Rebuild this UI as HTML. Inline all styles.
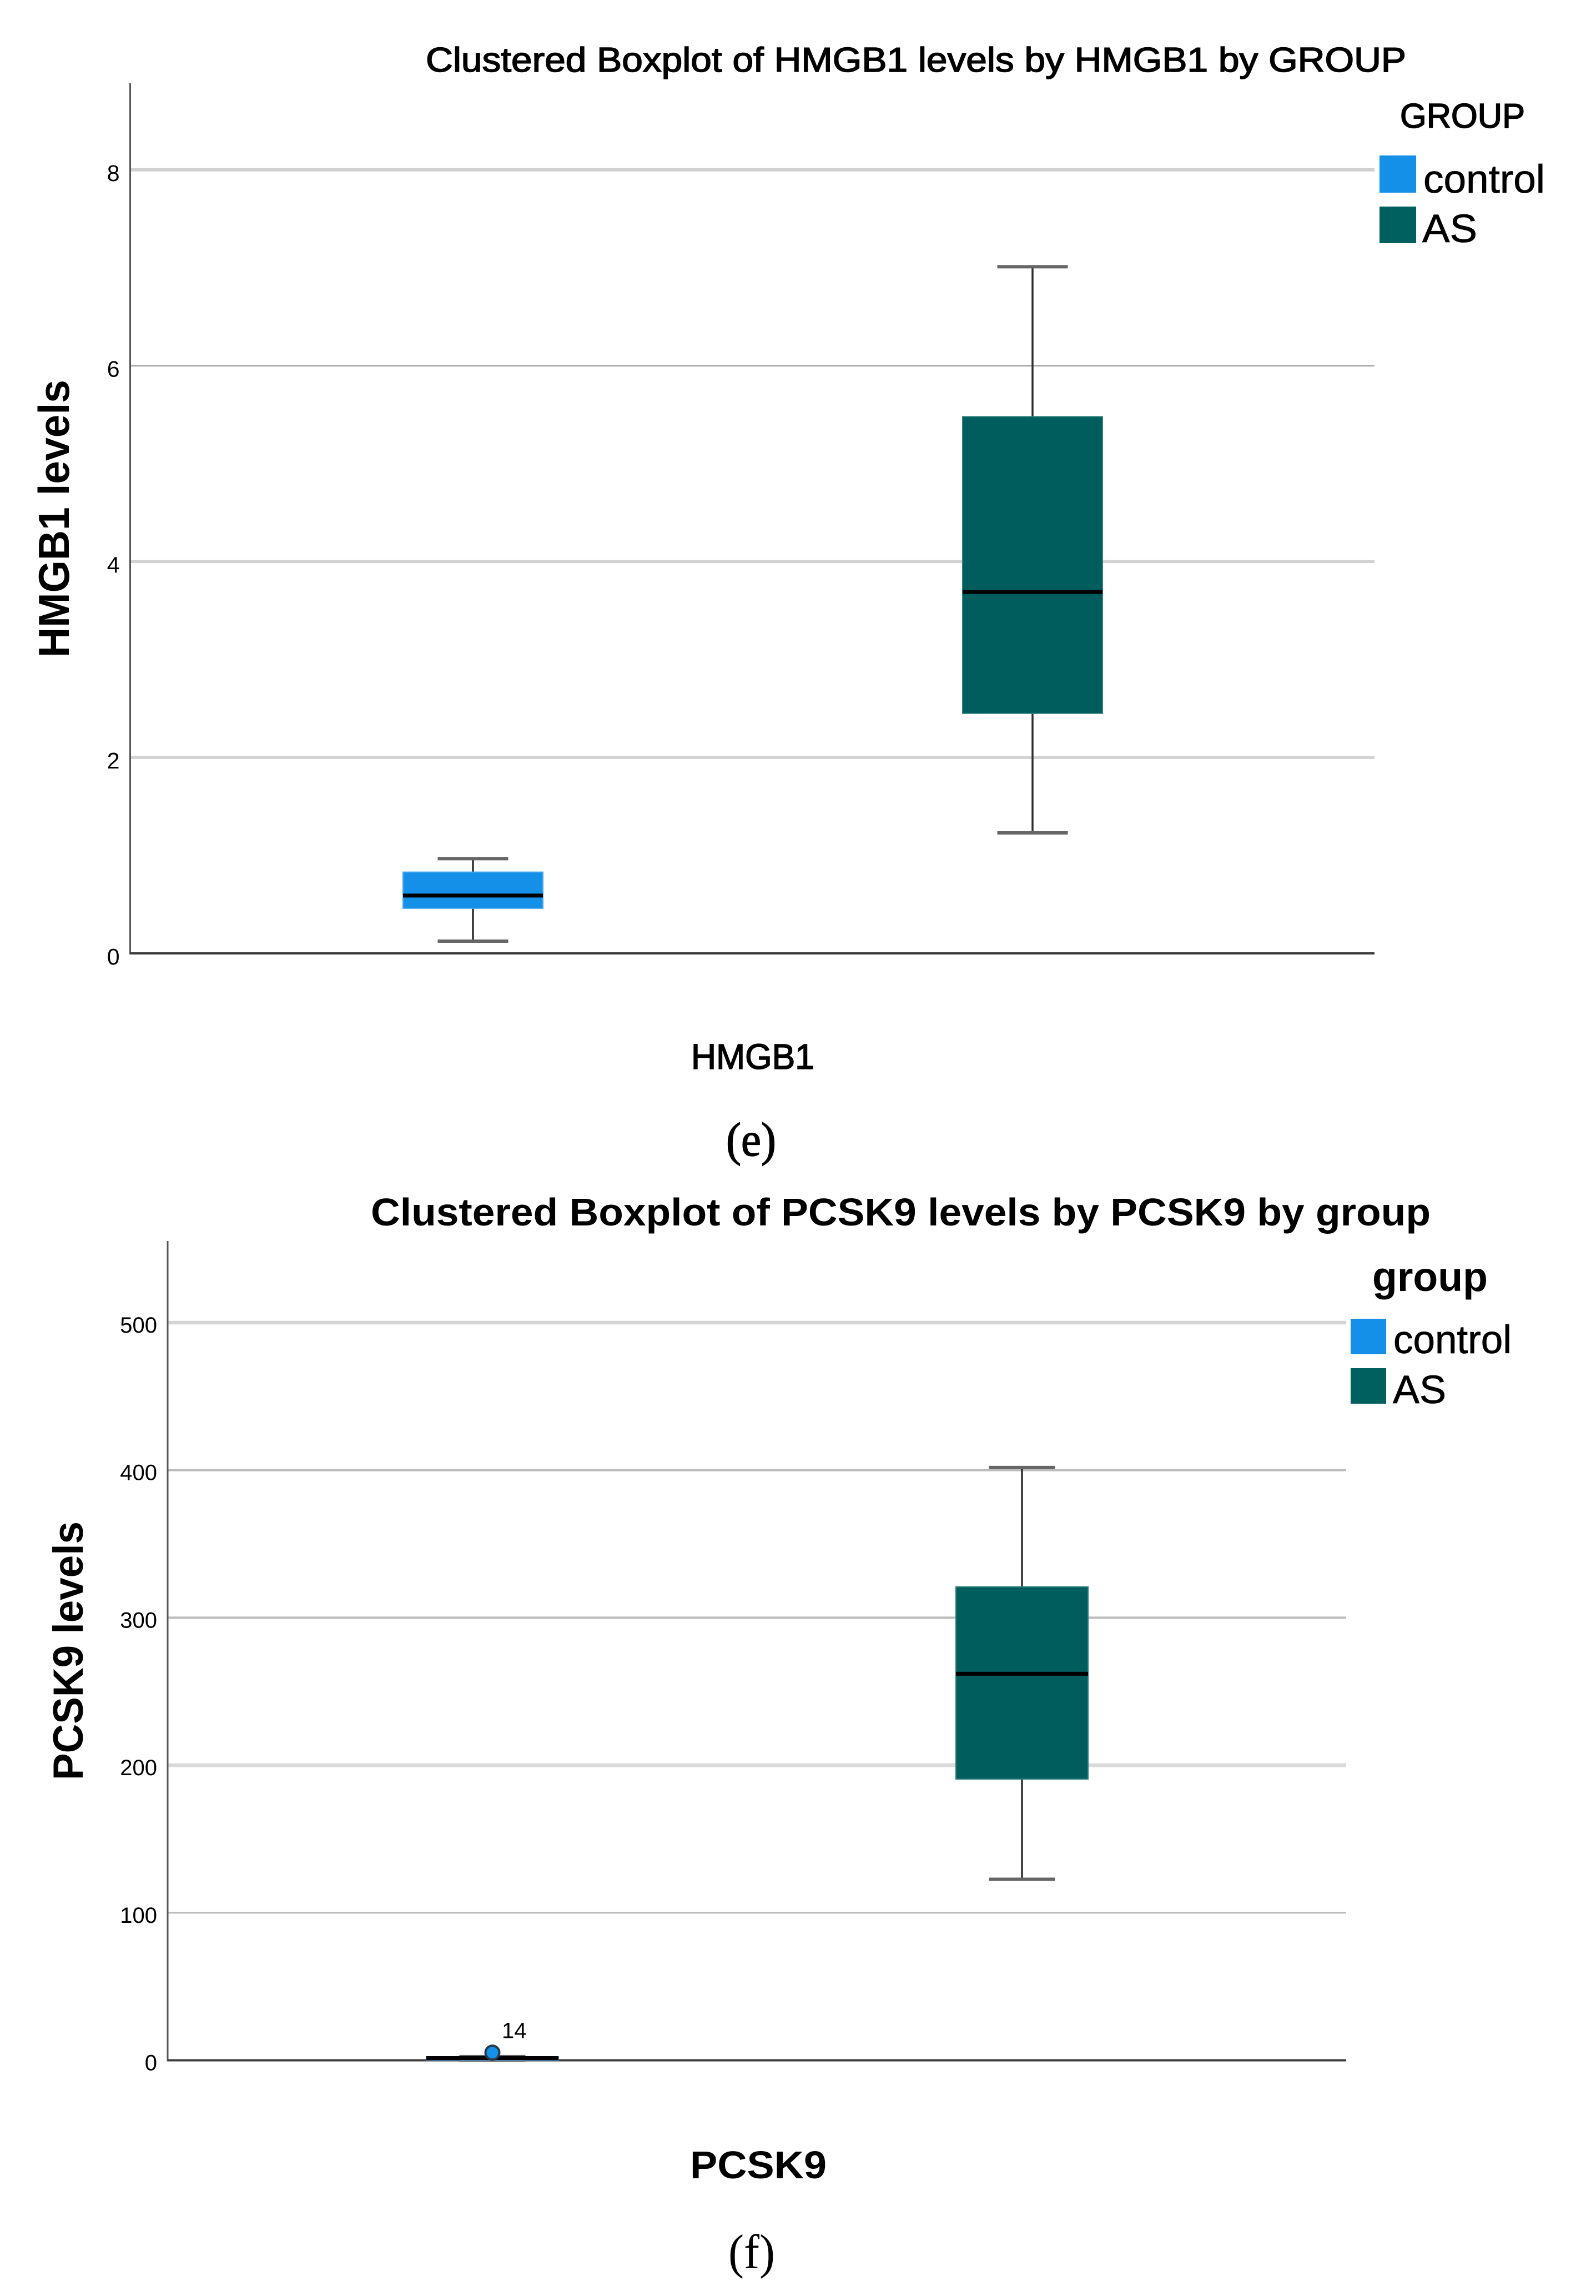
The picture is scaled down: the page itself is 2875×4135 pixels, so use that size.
<!DOCTYPE html>
<html lang="en">
<head>
<meta charset="utf-8">
<title>Clustered Boxplots of HMGB1 and PCSK9 levels</title>
<style>
  html, body { margin: 0; padding: 0; background: #ffffff; }
  svg { display: block; }
  text { font-family: "Liberation Sans", sans-serif; fill: #000; }
  .med { stroke: #000; stroke-width: 1.6px; }
  .lab { stroke: #000; stroke-width: 0.8px; }
  .bold { font-weight: 700; }
  .serif { font-family: "Liberation Serif", serif; }
</style>
</head>
<body>
<svg id="figure" xmlns="http://www.w3.org/2000/svg" width="2875" height="4135" viewBox="0 0 2875 4135">
  <rect x="0" y="0" width="2875" height="4135" fill="#ffffff"/>

  <g id="chart-e">
    <text class="med" x="767" y="129" font-size="62" textLength="1766" lengthAdjust="spacingAndGlyphs">Clustered Boxplot of HMGB1 levels by HMGB1 by GROUP</text>
    <text class="bold" transform="translate(124 1184) rotate(-90)" x="0" y="0" font-size="78" textLength="500" lengthAdjust="spacingAndGlyphs">HMGB1 levels</text>
    <text class="med" x="1245" y="1925" font-size="64" textLength="222" lengthAdjust="spacingAndGlyphs">HMGB1</text>
    <g>
      <text class="med" x="2522" y="230" font-size="62" textLength="225" lengthAdjust="spacingAndGlyphs">GROUP</text>
      <rect x="2485" y="280" width="66" height="67" fill="#1490e8"/>
      <text class="lab" x="2564" y="347" font-size="71" textLength="219" lengthAdjust="spacingAndGlyphs">control</text>
      <rect x="2485" y="372" width="66" height="66" fill="#005f5f"/>
      <text class="lab" x="2562" y="436" font-size="71" textLength="99" lengthAdjust="spacingAndGlyphs">AS</text>
    </g>
    <text class="serif" style="stroke:#000;stroke-width:1.5px" x="1308" y="2081" font-size="86" textLength="90" lengthAdjust="spacingAndGlyphs">(e)</text>
  </g>

  <g id="chart-f">
    <text class="bold" x="668" y="2207" font-size="70" textLength="1909" lengthAdjust="spacingAndGlyphs">Clustered Boxplot of PCSK9 levels by PCSK9 by group</text>
    <text class="bold" transform="translate(149 3206) rotate(-90)" x="0" y="0" font-size="76" textLength="466" lengthAdjust="spacingAndGlyphs">PCSK9 levels</text>
    <text class="bold" x="1243" y="3923" font-size="70" textLength="246" lengthAdjust="spacingAndGlyphs">PCSK9</text>
    <g>
      <text class="bold" x="2472" y="2325" font-size="74" textLength="208" lengthAdjust="spacingAndGlyphs">group</text>
      <rect x="2433" y="2375" width="64" height="64" fill="#1490e8"/>
      <text class="lab" x="2510" y="2437" font-size="71" textLength="213" lengthAdjust="spacingAndGlyphs">control</text>
      <rect x="2433" y="2464" width="64" height="64" fill="#005f5f"/>
      <text class="lab" x="2509" y="2527" font-size="71" textLength="96" lengthAdjust="spacingAndGlyphs">AS</text>
    </g>
    <text class="serif" x="1312" y="4085" font-size="88" textLength="84" lengthAdjust="spacingAndGlyphs">(f)</text>
  </g>
</svg>

<script>
// ---- Chart data ----
const hmgb1Ticks = [0, 2, 4, 6, 8];
const hmgb1Groups = ['control', 'AS'];
// Five-number summaries: low whisker, Q1, median, Q3, high whisker
const hmgb1ControlStats = [0.125, 0.46, 0.59, 0.83, 0.967];
const hmgb1AsStats = [1.23, 2.45, 3.69, 5.48, 7.01];
const hmgb1Outliers = [];

const pcsk9Ticks = [0, 100, 200, 300, 400, 500];
const pcsk9Groups = ['control', 'AS'];
const pcsk9ControlStats = [0.2, 0.3, 1.5, 2.3, 2.5];
const pcsk9AsStats = [122.7, 190.6, 262, 320.9, 401.8];
const pcsk9ControlOutliers = [5.2];
const pcsk9ControlOutlierLabels = ['14'];

// ---- Axis functions ----
function hmgb1Y(v) { return 1717 - v * 176.4; }
function hmgb1X(i) { return 852 + i * 1008; }
function pcsk9Y(v) { return 3710.5 - v * 2.657; }
function pcsk9X(i) { return 887 + i * 954; }

// ---- Drawing ----
const NS = 'http://www.w3.org/2000/svg';
const groupColors = { control: '#1490e8', AS: '#005d5d' };
const groupEdges = { control: '#45a6ee', AS: '#2f7f7f' };

function line(parent, x1, y1, x2, y2, color, width) {
  const el = document.createElementNS(NS, 'line');
  el.setAttribute('x1', x1);
  el.setAttribute('y1', y1);
  el.setAttribute('x2', x2);
  el.setAttribute('y2', y2);
  el.setAttribute('stroke', color);
  el.setAttribute('stroke-width', width);
  parent.appendChild(el);
  return el;
}

function drawAxes(parent, prefix, ticks, yFn, left, right, top, tickFont, labelDrop, gridLook) {
  ticks.forEach(function (t, i) {
    if (t !== 0) {
      const look = gridLook[i];
      const grid = line(parent, left, yFn(t), right, yFn(t), look.color, look.width);
      
      
    }
    const label = document.createElementNS(NS, 'text');
    label.setAttribute('x', left - 19);
    label.setAttribute('y', yFn(t) + labelDrop);
    label.setAttribute('text-anchor', 'end');
    label.setAttribute('font-size', tickFont);
    label.textContent = String(t);
    
    
    parent.appendChild(label);
  });
  const yAxis = line(parent, left, top, left, yFn(0) + 2, '#555555', 3);
  
  
  const xAxis = line(parent, left, yFn(0), right, yFn(0), '#3c3c3c', 4);
  
  
}

function drawBox(parent, prefix, group, stats, cx, yFn, boxW, capW) {
  const low = stats[0], q1 = stats[1], med = stats[2], q3 = stats[3], high = stats[4];

  const whisker = line(parent, cx, yFn(high), cx, yFn(low), '#2e2e2e', 3.5);
  
  

  const capHigh = line(parent, cx - capW / 2, yFn(high), cx + capW / 2, yFn(high), '#666666', 6);
  
  

  const capLow = line(parent, cx - capW / 2, yFn(low), cx + capW / 2, yFn(low), '#666666', 6);
  
  

  const box = document.createElementNS(NS, 'rect');
  box.setAttribute('x', cx - boxW / 2);
  box.setAttribute('y', yFn(q3));
  box.setAttribute('width', boxW);
  box.setAttribute('height', yFn(q1) - yFn(q3));
  box.setAttribute('fill', groupColors[group]);
  box.setAttribute('stroke', groupEdges[group]);
  box.setAttribute('stroke-width', 2);
  
  
  parent.appendChild(box);

  const median = line(parent, cx - boxW / 2, yFn(med), cx + boxW / 2, yFn(med), '#000000', 7);
  
  
}

function drawOutliers(parent, prefix, group, values, labels, cx, yFn) {
  values.forEach(function (v, i) {
    const dot = document.createElementNS(NS, 'circle');
    dot.setAttribute('cx', cx);
    dot.setAttribute('cy', yFn(v));
    dot.setAttribute('r', 12.5);
    dot.setAttribute('fill', groupColors[group]);
    dot.setAttribute('stroke', '#26394a');
    dot.setAttribute('stroke-width', 4);
    
    
    parent.appendChild(dot);

    const label = document.createElementNS(NS, 'text');
    label.setAttribute('x', cx + 17);
    label.setAttribute('y', yFn(v) - 26);
    label.setAttribute('font-size', 40);
    label.textContent = labels[i];
    
    
    parent.appendChild(label);
  });
}

// ---- Chart e: HMGB1 ----
const chartE = document.getElementById('chart-e');
drawAxes(chartE, 'hmgb1', hmgb1Ticks, hmgb1Y, 234.5, 2476, 150, 41, 20, [
  null,
  { color: '#d2d2d2', width: 5.5 },
  { color: '#d2d2d2', width: 5.5 },
  { color: '#aaaaaa', width: 3 },
  { color: '#d0d0d0', width: 6 }
]);
drawBox(chartE, 'hmgb1', hmgb1Groups[0], hmgb1ControlStats, hmgb1X(0), hmgb1Y, 252, 127);
drawBox(chartE, 'hmgb1', hmgb1Groups[1], hmgb1AsStats, hmgb1X(1), hmgb1Y, 252, 127);
drawOutliers(chartE, 'hmgb1', hmgb1Groups[0], hmgb1Outliers, [], hmgb1X(0), hmgb1Y);

// ---- Chart f: PCSK9 ----
const chartF = document.getElementById('chart-f');
drawAxes(chartF, 'pcsk9', pcsk9Ticks, pcsk9Y, 302, 2425, 2235, 40, 18, [
  null,
  { color: '#b8b8b8', width: 3 },
  { color: '#dadada', width: 7 },
  { color: '#bcbcbc', width: 4 },
  { color: '#bcbcbc', width: 4 },
  { color: '#d4d4d4', width: 6.5 }
]);
drawBox(chartF, 'pcsk9', pcsk9Groups[0], pcsk9ControlStats, pcsk9X(0), pcsk9Y, 238, 119);
drawBox(chartF, 'pcsk9', pcsk9Groups[1], pcsk9AsStats, pcsk9X(1), pcsk9Y, 238, 119);
drawOutliers(chartF, 'pcsk9', pcsk9Groups[0], pcsk9ControlOutliers, pcsk9ControlOutlierLabels, pcsk9X(0), pcsk9Y);
</script>
</body>
</html>
